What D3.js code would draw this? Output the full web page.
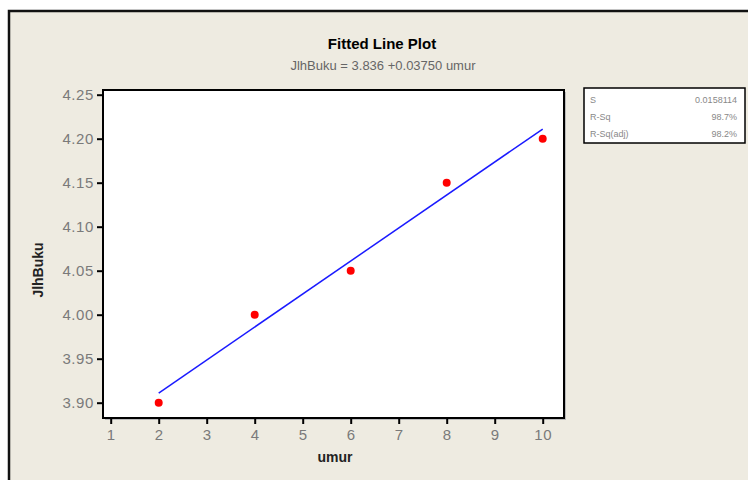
<!DOCTYPE html>
<html>
<head>
<meta charset="utf-8">
<script src="https://cdn.jsdelivr.net/npm/d3@7"></script>
<style>
  html, body { margin: 0; padding: 0; background: #fff; }
  text { font-family: "Liberation Sans", Arial, sans-serif; }
</style>
</head>
<body>
<div id="chart"></div>
<script>
// data
const umur = [2, 4, 6, 8, 10];
const jlhBuku = [3.90, 4.00, 4.05, 4.15, 4.20];
const xTicks = [1, 2, 3, 4, 5, 6, 7, 8, 9, 10];
const yTicks = [3.90, 3.95, 4.00, 4.05, 4.10, 4.15, 4.20, 4.25];
const fitIntercept = 3.836;
const fitSlope = 0.0375;
const statLabels = ['S', 'R-Sq', 'R-Sq(adj)'];
const statValues = ['0.0158114', '98.7%', '98.2%'];

const W = 748, H = 480;
const plot = { left: 103, top: 90, right: 564, bottom: 418 };

const svg = d3.select('#chart').append('svg')
  .attr('width', W)
  .attr('height', H);

// outer frame
svg.append('rect')
  .attr('x', 9).attr('y', 11)
  .attr('width', W + 10).attr('height', H)
  .attr('fill', '#eeebe1')
  .attr('stroke', '#111')
  .attr('stroke-width', 2.5);

const x = d3.scaleLinear()
  .domain([1 - 7.7 / 48, 10 + 21.3 / 48])
  .range([plot.left, plot.right]);

const y = d3.scaleLinear()
  .domain([3.90 - 15.3 / 880, 4.25 + 4.7 / 880])
  .range([plot.bottom, plot.top]);

// plot area
svg.append('rect')
  .attr('x', plot.left + 2).attr('y', plot.top + 2)
  .attr('width', plot.right - plot.left).attr('height', plot.bottom - plot.top)
  .attr('fill', '#bbb');
svg.append('rect')
  .attr('x', plot.left).attr('y', plot.top)
  .attr('width', plot.right - plot.left).attr('height', plot.bottom - plot.top)
  .attr('fill', '#fff')
  .attr('stroke', '#000')
  .attr('stroke-width', 2);

// axes
const xAxis = svg.append('g')
  .attr('transform', `translate(0,${plot.bottom + 1})`)
  .call(d3.axisBottom(x).tickValues(xTicks).tickSize(5).tickSizeOuter(0).tickPadding(5).tickFormat(d3.format('d')));
const yAxis = svg.append('g')
  .attr('transform', `translate(${plot.left - 1},0)`)
  .call(d3.axisLeft(y).tickValues(yTicks).tickSize(5).tickSizeOuter(0).tickPadding(3).tickFormat(d3.format('.2f')));

[xAxis, yAxis].forEach(g => {
  g.select('.domain').remove();
  g.selectAll('.tick line').attr('stroke', '#000').attr('stroke-width', 2);
  g.selectAll('.tick text')
    .attr('fill', '#7a7a7a')
    .style('font-size', '15px')
    .style('letter-spacing', '0.6px')
    .style('font-family', '"Liberation Sans", Arial, sans-serif');
});

// fitted line
const fit = umur.map(u => [u, fitIntercept + fitSlope * u]);
svg.append('path')
  .datum([fit[0], fit[fit.length - 1]])
  .attr('d', d3.line().x(d => x(d[0])).y(d => y(d[1])))
  .attr('fill', 'none')
  .attr('stroke', '#1a1aff')
  .attr('stroke-width', 1.5);

// points
svg.selectAll('circle.pt')
  .data(umur.map((u, i) => [u, jlhBuku[i]]))
  .enter()
  .append('circle')
  .attr('class', 'pt')
  .attr('cx', d => x(d[0]))
  .attr('cy', d => y(d[1]))
  .attr('r', 4)
  .attr('fill', '#ff0000');

// titles
svg.append('text')
  .attr('x', 382).attr('y', 49)
  .attr('text-anchor', 'middle')
  .style('font-size', '15px')
  .style('font-weight', 'bold')
  .attr('fill', '#000')
  .text('Fitted Line Plot');

svg.append('text')
  .attr('x', 383).attr('y', 70)
  .attr('text-anchor', 'middle')
  .style('font-size', '13px')
  .attr('fill', '#666')
  .text(`JlhBuku =  ${fitIntercept.toFixed(3)} +${fitSlope.toFixed(5)} umur`);

svg.append('text')
  .attr('x', 335).attr('y', 462)
  .attr('text-anchor', 'middle')
  .style('font-size', '14px')
  .style('font-weight', 'bold')
  .attr('fill', '#222')
  .text('umur');

svg.append('text')
  .attr('transform', 'translate(43,270) rotate(-90)')
  .attr('text-anchor', 'middle')
  .style('font-size', '14px')
  .style('font-weight', 'bold')
  .attr('fill', '#222')
  .text('JlhBuku');

// stats box
const box = svg.append('g').attr('transform', 'translate(584,88)');
box.append('rect')
  .attr('width', 161).attr('height', 55)
  .attr('fill', '#fff')
  .attr('stroke', '#000')
  .attr('stroke-width', 1.5);
statLabels.forEach((lab, i) => {
  box.append('text')
    .attr('x', 6).attr('y', 15 + i * 17)
    .style('font-size', '9px')
    .attr('fill', '#888')
    .text(lab);
  box.append('text')
    .attr('x', 153).attr('y', 15 + i * 17)
    .attr('text-anchor', 'end')
    .style('font-size', '9px')
    .attr('fill', '#888')
    .text(statValues[i]);
});
</script>
</body>
</html>
